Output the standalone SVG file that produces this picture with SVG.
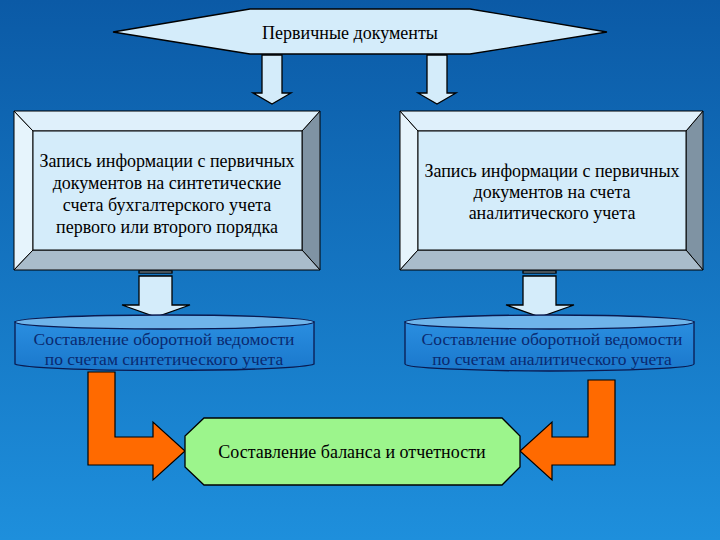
<svg xmlns="http://www.w3.org/2000/svg" width="720" height="540" viewBox="0 0 720 540">
<defs>
<linearGradient id="bg" x1="0" y1="0" x2="0" y2="1"><stop offset="0" stop-color="#0b5aa6"/><stop offset="1" stop-color="#1e8fdc"/></linearGradient>
<linearGradient id="cyl" x1="0" y1="0" x2="0" y2="1"><stop offset="0" stop-color="#2a8ee0"/><stop offset="1" stop-color="#1a78cc"/></linearGradient>
</defs>
<style>
.o{stroke:#000;stroke-width:1.3}
.lt{fill:#d4ecfa}
text{font-family:'Liberation Serif','Times New Roman','DejaVu Serif',serif;font-size:18px;text-anchor:middle}
.t{fill:#000}
.tc{fill:#0a2a70;font-size:17.5px}
.or{fill:#ff6a00;stroke:#000;stroke-width:1.2}
</style>
<rect width="720" height="540" fill="url(#bg)"/>
<g id="connectors">
<polygon class="o lt" points="262,55 282,55 282,93 291,93 272,104 253,93 262,93"/>
<polygon class="o lt" points="427,55 447,55 447,93 456,93 437,104 418,93 427,93"/>
<g class="o lt">
<rect x="139" y="271" width="33" height="2"/>
<polygon points="139,276 172,276 172,305 190,305 156,317 122,305 139,305"/>
<rect x="523" y="271" width="33" height="2"/>
<polygon points="523,276 556,276 556,305 574,305 540,317 506,305 523,305"/>
</g>
<polygon class="or" points="88,372 115,372 115,437 153,437 153,422 185,451 153,480 153,465 88,465"/>
<polygon class="or" points="615,380 588,380 588,437 552,437 552,422 520,451 552,480 552,465 615,465"/>
</g>
<g id="n-primary">
<polygon class="o lt" points="113,32 250,9 470,9 607,32 470,54 250,54"/>
<text class="t" x="350" y="39" font-size="17">Первичные документы</text>
</g>
<g id="n-synth">
<rect x="14" y="111" width="306" height="159" class="lt"/>
<polygon points="14,111 33,131 33,250 14,270" fill="#e6f4fc" stroke="#000"/>
<polygon points="320,111 302,131 302,250 320,270" fill="#7f93a3" stroke="#000"/>
<polygon points="14,270 33,250 302,250 320,270" fill="#a9bccb" stroke="#000"/>
<polygon points="14,111 33,131 302,131 320,111" fill="#dff0fb" stroke="#000"/>
<rect x="33" y="131" width="269" height="119" class="lt" stroke="#000"/>
<text class="t" x="167" y="167">Запись информации с первичных</text>
<text class="t" x="167" y="189">документов на синтетические</text>
<text class="t" x="167" y="211">счета бухгалтерского учета</text>
<text class="t" x="167" y="233">первого или второго порядка</text>
</g>
<g id="n-anal">
<rect x="400" y="111" width="303" height="159" class="lt"/>
<polygon points="400,111 418,131 418,250 400,270" fill="#e6f4fc" stroke="#000"/>
<polygon points="703,111 686,131 686,250 703,270" fill="#7f93a3" stroke="#000"/>
<polygon points="400,270 418,250 686,250 703,270" fill="#a9bccb" stroke="#000"/>
<polygon points="400,111 418,131 686,131 703,111" fill="#dff0fb" stroke="#000"/>
<rect x="418" y="131" width="268" height="119" class="lt" stroke="#000"/>
<text class="t" x="552" y="177">Запись информации с первичных</text>
<text class="t" x="552" y="198">документов на счета</text>
<text class="t" x="552" y="219">аналитического учета</text>
</g>
<g id="n-cyl-left">
<path d="M15,322 V364 A150,7 0 0 0 314,364 V322 Z" fill="url(#cyl)" stroke="#0a1a50" stroke-width="1.3"/>
<ellipse cx="164.5" cy="322" rx="149.5" ry="7" fill="#6fb4ea" stroke="#0a1a50" stroke-width="1.3"/>
<text class="tc" x="164" y="345">Составление оборотной ведомости</text>
<text class="tc" x="164" y="365">по счетам синтетического учета</text>
</g>
<g id="n-cyl-right">
<path d="M405,322 V364 A144.5,7 0 0 0 694,364 V322 Z" fill="url(#cyl)" stroke="#0a1a50" stroke-width="1.3"/>
<ellipse cx="549.5" cy="322" rx="144.5" ry="7" fill="#6fb4ea" stroke="#0a1a50" stroke-width="1.3"/>
<text class="tc" x="552" y="345">Составление оборотной ведомости</text>
<text class="tc" x="552" y="365">по счетам аналитического учета</text>
</g>
<g id="n-balance">
<polygon class="o" fill="#9cf58c" points="204,418 502,418 520,436 520,467 502,485 204,485 185,467 185,436"/>
<text class="t" x="352" y="458" font-size="19.5">Составление баланса и отчетности</text>
</g>
</svg>
